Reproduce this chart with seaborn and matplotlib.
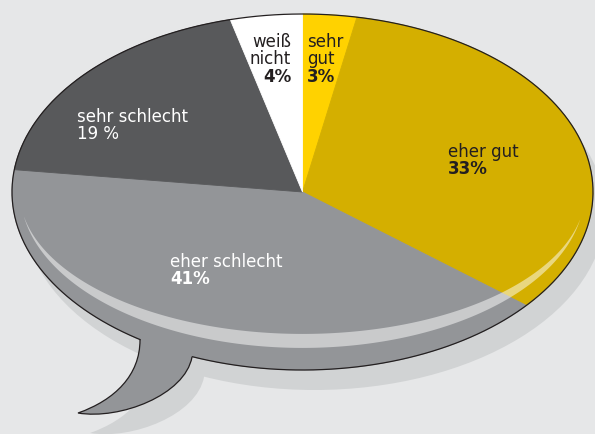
import numpy as np
import matplotlib
matplotlib.use("Agg")
import matplotlib.pyplot as plt
import seaborn as sns
from matplotlib.patches import Ellipse, PathPatch, Polygon
from matplotlib.path import Path

# Daten (Uhrzeigersinn ab 12 Uhr)
categories = ["sehr\ngut", "eher gut", "eher schlecht", "sehr schlecht", "weiß\nnicht"]
values = [3, 33, 41, 19, 4]
pct_labels = ["3%", "33%", "41%", "19 %", "4%"]
colors = ["#ffd200", "#d4af00", "#939598", "#58595b", "#ffffff"]
text_colors = ["#231f20", "#231f20", "#ffffff", "#ffffff", "#231f20"]

sns.set_style("white")
plt.rcParams["font.family"] = ["DejaVu Sans"]

BG = "#e6e7e8"
SHADOW = "#d1d3d4"
LINE = "#231f20"

# Ellipse der Sprechblase in Pixeln
W, H = 595, 434
CX, CY, RX, RY = 302.5, 192, 290.5, 178


def to_norm(x, y):
    return (x - CX) / RX, (CY - y) / RY


fig = plt.figure(figsize=(W / 100, H / 100), dpi=100)
fig.patch.set_facecolor(BG)
ax = fig.add_axes([0, 0, 1, 1])
ax.set_facecolor(BG)

# Schatten
off = (12 / RX, -20 / RY)
ax.add_patch(Ellipse(off, 2, 2, facecolor=SHADOW, edgecolor="none", zorder=0))

# Sprechblasen-Zipfel
p0, c1, c2, tip = (140, 340), (140, 375), (115, 400), (78, 413)
q0, d1, d2 = (192, 357), (185, 395), (120, 420)
tail_px = [(150, 320), p0, c1, c2, tip, d2, d1, q0, (195, 330), (150, 320)]
tail_codes = [Path.MOVETO, Path.LINETO, Path.CURVE4, Path.CURVE4, Path.CURVE4,
              Path.CURVE4, Path.CURVE4, Path.CURVE4, Path.LINETO, Path.CLOSEPOLY]
tail = np.array([to_norm(*p) for p in tail_px])
ax.add_patch(PathPatch(Path(tail + np.array(off), tail_codes),
                       facecolor=SHADOW, edgecolor="none", zorder=0.5))
ax.add_patch(PathPatch(Path(tail, tail_codes),
                       facecolor=colors[2], edgecolor="none", zorder=1))

# Torte
wedges, _ = ax.pie(values, colors=colors, startangle=90, counterclock=False,
                   radius=1, center=(0, 0),
                   wedgeprops=dict(linewidth=0.6))
for w in wedges:
    w.set_edgecolor(w.get_facecolor())
    w.set_zorder(2)

# Glanzlicht
t1, t2 = 189, 350
th = np.radians(np.linspace(t1, t2, 200))
lu, lv = 0.971 * np.cos(th), 0.876 * np.sin(th)
wid = (14 / RY) * np.sin(np.pi * (np.degrees(th) - t1) / (t2 - t1)) ** 0.8
band = np.vstack([np.column_stack([lu, lv]),
                  np.column_stack([lu, lv + wid])[::-1]])
ax.add_patch(Polygon(band, closed=True, facecolor="white", alpha=0.5,
                     edgecolor="none", zorder=3))

# Umriss (ohne Ansatz des Zipfels)
a0 = np.degrees(np.arctan2(*to_norm(*q0)[::-1])) % 360
a1 = np.degrees(np.arctan2(*to_norm(*p0)[::-1])) % 360
ta = np.radians(np.linspace(a0, a1 + 360, 400))
ax.plot(np.cos(ta), np.sin(ta), color=LINE, lw=0.9, zorder=4)
edge_px = [p0, c1, c2, tip, d2, d1, q0]
edge_codes = [Path.MOVETO] + [Path.CURVE4] * 6
ax.add_patch(PathPatch(Path(np.array([to_norm(*p) for p in edge_px]), edge_codes),
                       fill=False, edgecolor=LINE, lw=0.9, zorder=4))

# Beschriftungen: (x, Grundlinie der ersten Zeile, Ausrichtung)
label_pos = [(307, 47, "left"), (448, 157, "left"), (170, 267, "left"),
             (77, 122, "left"), (291, 47, "right")]
line_h = 17
for cat, pct, col, (x, y, ha) in zip(categories, pct_labels, text_colors, label_pos):
    lines = cat.split("\n")
    for i, ln in enumerate(lines):
        ax.text(*to_norm(x, y + i * line_h), ln, color=col, fontsize=12,
                ha=ha, va="baseline", zorder=5)
    bold = "bold" if " " not in pct else "normal"
    yy = y + len(lines) * line_h + (1 if len(lines) > 1 else 0)
    ax.text(*to_norm(x, yy), pct, color=col, fontsize=12, fontweight=bold,
            ha=ha, va="baseline", zorder=5)

ax.set_aspect("auto")
ax.set_xlim(to_norm(0, 0)[0], to_norm(W, 0)[0])
ax.set_ylim(to_norm(0, H)[1], to_norm(0, 0)[1])
ax.axis("off")

fig.savefig("out.png", dpi=100, facecolor=BG)
